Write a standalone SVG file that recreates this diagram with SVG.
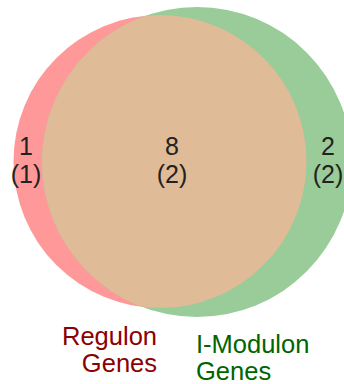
<svg xmlns="http://www.w3.org/2000/svg" width="344" height="384" viewBox="0 0 344 384">
  <style>
    .num { font-family: "Liberation Sans", Arial, sans-serif; font-size: 25px; fill: #222222; text-anchor: middle; }
    .lbl { font-family: "Liberation Sans", Arial, sans-serif; font-size: 25.5px; }
  </style>
  <defs>
    <clipPath id="clipRed">
      <circle cx="160" cy="161.5" r="146.5"/>
    </clipPath>
  </defs>
  <rect width="344" height="384" fill="#ffffff"/>
  <g id="set-regulon">
    <circle cx="160" cy="161.5" r="146.5" fill="#ff9999"/>
  </g>
  <g id="set-imodulon">
    <circle cx="197" cy="162" r="155" fill="#99cc99"/>
  </g>
  <g id="overlap">
    <circle cx="197" cy="162" r="155" fill="#dfbb97" clip-path="url(#clipRed)"/>
  </g>
  <g id="counts">
    <text class="num" x="26" y="155">1</text>
    <text class="num" x="26" y="183">(1)</text>
    <text class="num" x="172" y="155">8</text>
    <text class="num" x="172" y="183">(2)</text>
    <text class="num" x="328" y="155">2</text>
    <text class="num" x="328" y="183">(2)</text>
  </g>
  <g id="label-regulon">
    <text class="lbl" fill="#8b0000" text-anchor="end" x="157" y="345">Regulon</text>
    <text class="lbl" fill="#8b0000" text-anchor="end" x="157" y="372">Genes</text>
  </g>
  <g id="label-imodulon">
    <text class="lbl" fill="#006400" x="196" y="353">I-Modulon</text>
    <text class="lbl" fill="#006400" x="196" y="380">Genes</text>
  </g>
</svg>
